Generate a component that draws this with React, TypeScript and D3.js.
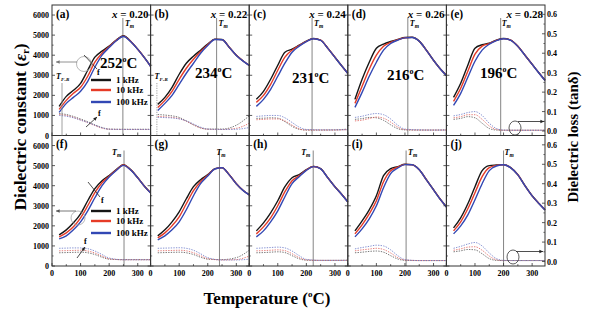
import * as d3 from 'd3';

// temperature grid (°C) for dielectric constant curves
const temps = [25, 50, 75, 100, 125, 150, 175, 200, 225, 250, 275, 300, 325, 345];
// temperature grid (°C) for loss curves
const lossTemps = [25, 50, 75, 100, 125, 150, 175, 200, 250, 300, 345];

// dielectric constant, rows = 1 kHz, 10 kHz, 100 kHz
const epsA = [
    [1450, 1950, 2250, 2600, 3250, 3900, 4200, 4450, 4750, 4970, 4700, 4300, 3850, 3450],
    [1300, 1750, 2100, 2400, 2950, 3650, 4100, 4420, 4740, 4950, 4690, 4295, 3845, 3445],
    [1150, 1600, 1900, 2200, 2700, 3400, 4000, 4380, 4720, 4930, 4680, 4290, 3840, 3440],
];
const epsB = [
    [1550, 1900, 2400, 3050, 3600, 3950, 4250, 4550, 4800, 4780, 4400, 4000, 3700, 3500],
    [1400, 1750, 2200, 2800, 3350, 3800, 4180, 4520, 4790, 4775, 4395, 3995, 3695, 3495],
    [1250, 1600, 2000, 2550, 3100, 3600, 4100, 4480, 4780, 4770, 4390, 3990, 3690, 3490],
];
const epsC = [
    [1800, 2200, 2800, 3500, 4150, 4300, 4500, 4700, 4830, 4750, 4350, 3900, 3450, 3100],
    [1650, 2000, 2550, 3250, 3900, 4250, 4480, 4690, 4825, 4745, 4345, 3895, 3445, 3095],
    [1450, 1800, 2300, 2950, 3600, 4150, 4450, 4680, 4820, 4740, 4340, 3890, 3440, 3090],
];
const epsD = [
    [1800, 2800, 3650, 4350, 4550, 4680, 4780, 4880, 4890, 4700, 4250, 3750, 3300, 3000],
    [1600, 2450, 3300, 4000, 4450, 4640, 4770, 4870, 4885, 4695, 4245, 3745, 3295, 2995],
    [1400, 2150, 2950, 3650, 4250, 4580, 4750, 4860, 4880, 4690, 4240, 3740, 3290, 2990],
];
const epsE = [
    [1900, 2600, 3500, 4350, 4520, 4600, 4750, 4830, 4750, 4450, 4000, 3550, 3100, 2750],
    [1700, 2350, 3200, 4050, 4450, 4580, 4740, 4825, 4745, 4445, 3995, 3545, 3095, 2745],
    [1500, 2100, 2900, 3700, 4250, 4550, 4730, 4820, 4740, 4440, 3990, 3540, 3090, 2740],
];
const epsF = [
    [1550, 1800, 2150, 2600, 3250, 3850, 4250, 4500, 4800, 5050, 4800, 4400, 3950, 3650],
    [1450, 1650, 1950, 2400, 3000, 3650, 4150, 4470, 4780, 5030, 4790, 4395, 3945, 3645],
    [1350, 1500, 1800, 2200, 2750, 3400, 4000, 4430, 4760, 5010, 4780, 4390, 3940, 3640],
];
const epsG = [
    [1500, 1800, 2200, 2700, 3350, 3950, 4300, 4550, 4850, 4900, 4550, 4100, 3750, 3550],
    [1400, 1650, 2000, 2450, 3100, 3750, 4200, 4520, 4840, 4895, 4545, 4095, 3745, 3545],
    [1300, 1500, 1800, 2200, 2800, 3500, 4100, 4480, 4830, 4890, 4540, 4090, 3740, 3540],
];
const epsH = [
    [1750, 2150, 2650, 3250, 3950, 4400, 4550, 4800, 4960, 4850, 4400, 3950, 3550, 3200],
    [1600, 1950, 2400, 3000, 3700, 4250, 4500, 4780, 4955, 4845, 4395, 3945, 3545, 3195],
    [1450, 1750, 2200, 2750, 3450, 4100, 4450, 4760, 4950, 4840, 4390, 3940, 3540, 3190],
];
const epsI = [
    [1750, 2250, 2800, 3500, 4500, 4850, 4950, 5070, 5050, 4800, 4300, 3800, 3300, 2950],
    [1600, 2050, 2600, 3250, 4200, 4750, 4920, 5060, 5045, 4795, 4295, 3795, 3295, 2945],
    [1450, 1850, 2350, 3000, 3900, 4600, 4880, 5050, 5040, 4790, 4290, 3790, 3290, 2940],
];
const epsJ = [
    [1900, 2400, 3100, 3950, 4750, 5000, 5030, 5050, 4900, 4550, 4000, 3500, 3100, 2800],
    [1750, 2200, 2850, 3650, 4450, 4900, 5010, 5045, 4895, 4545, 3995, 3495, 3095, 2795],
    [1600, 2000, 2550, 3300, 4100, 4750, 4980, 5040, 4890, 4540, 3990, 3490, 3090, 2790],
];

// dielectric loss (tanδ), rows = 1 kHz, 10 kHz, 100 kHz
const lossA = [
    [0.09, 0.085, 0.075, 0.062, 0.048, 0.032, 0.018, 0.01, 0.009, 0.009, 0.009],
    [0.085, 0.08, 0.07, 0.057, 0.043, 0.028, 0.015, 0.009, 0.008, 0.008, 0.008],
    [0.08, 0.076, 0.068, 0.056, 0.044, 0.03, 0.017, 0.009, 0.008, 0.008, 0.008],
];
const lossB = [
    [0.085, 0.082, 0.078, 0.07, 0.052, 0.032, 0.016, 0.01, 0.01, 0.03, 0.078],
    [0.075, 0.073, 0.07, 0.064, 0.05, 0.032, 0.016, 0.009, 0.008, 0.014, 0.04],
    [0.07, 0.069, 0.067, 0.062, 0.052, 0.036, 0.02, 0.01, 0.008, 0.009, 0.018],
];
const lossC = [
    [0.065, 0.066, 0.068, 0.066, 0.048, 0.024, 0.009, 0.005, 0.005, 0.006, 0.01],
    [0.058, 0.06, 0.062, 0.062, 0.052, 0.03, 0.011, 0.005, 0.005, 0.005, 0.007],
    [0.075, 0.078, 0.08, 0.08, 0.068, 0.044, 0.02, 0.008, 0.006, 0.006, 0.007],
];
const lossD = [
    [0.06, 0.064, 0.07, 0.068, 0.055, 0.032, 0.012, 0.006, 0.005, 0.005, 0.006],
    [0.052, 0.056, 0.064, 0.072, 0.066, 0.046, 0.02, 0.007, 0.005, 0.005, 0.005],
    [0.07, 0.076, 0.085, 0.09, 0.084, 0.062, 0.03, 0.01, 0.006, 0.005, 0.005],
];
const lossE = [
    [0.06, 0.065, 0.074, 0.068, 0.04, 0.013, 0.005, 0.004, 0.004, 0.004, 0.004],
    [0.068, 0.074, 0.084, 0.084, 0.06, 0.026, 0.008, 0.004, 0.004, 0.004, 0.004],
    [0.078, 0.085, 0.095, 0.1, 0.08, 0.04, 0.013, 0.005, 0.004, 0.004, 0.004],
];
const lossF = [
    [0.045, 0.046, 0.047, 0.048, 0.045, 0.036, 0.022, 0.012, 0.01, 0.01, 0.01],
    [0.055, 0.056, 0.057, 0.058, 0.054, 0.044, 0.028, 0.014, 0.009, 0.009, 0.009],
    [0.068, 0.069, 0.07, 0.07, 0.066, 0.054, 0.036, 0.018, 0.009, 0.009, 0.009],
];
const lossG = [
    [0.045, 0.046, 0.047, 0.048, 0.045, 0.036, 0.022, 0.012, 0.01, 0.02, 0.058],
    [0.055, 0.056, 0.057, 0.058, 0.055, 0.045, 0.03, 0.015, 0.008, 0.01, 0.028],
    [0.068, 0.069, 0.07, 0.071, 0.068, 0.058, 0.04, 0.02, 0.008, 0.008, 0.012],
];
const lossH = [
    [0.045, 0.046, 0.048, 0.05, 0.046, 0.03, 0.014, 0.007, 0.006, 0.006, 0.007],
    [0.055, 0.056, 0.058, 0.06, 0.056, 0.04, 0.02, 0.008, 0.006, 0.006, 0.006],
    [0.068, 0.07, 0.072, 0.074, 0.07, 0.054, 0.03, 0.011, 0.006, 0.006, 0.006],
];
const lossI = [
    [0.045, 0.048, 0.052, 0.054, 0.048, 0.03, 0.013, 0.006, 0.005, 0.005, 0.005],
    [0.055, 0.06, 0.064, 0.068, 0.062, 0.044, 0.02, 0.008, 0.005, 0.005, 0.005],
    [0.065, 0.072, 0.078, 0.084, 0.08, 0.06, 0.03, 0.01, 0.005, 0.005, 0.005],
];
const lossJ = [
    [0.05, 0.055, 0.062, 0.06, 0.04, 0.015, 0.006, 0.005, 0.005, 0.005, 0.005],
    [0.058, 0.065, 0.074, 0.076, 0.058, 0.028, 0.009, 0.005, 0.005, 0.005, 0.005],
    [0.068, 0.078, 0.09, 0.098, 0.08, 0.044, 0.015, 0.006, 0.005, 0.005, 0.005],
];

const epsPanels = [epsA, epsB, epsC, epsD, epsE, epsF, epsG, epsH, epsI, epsJ];
const lossPanels = [lossA, lossB, lossC, lossD, lossE, lossF, lossG, lossH, lossI, lossJ];
const panelLetters = ['a', 'b', 'c', 'd', 'e', 'f', 'g', 'h', 'i', 'j'];
const compositions = ['0.20', '0.22', '0.24', '0.26', '0.28'];
const tmLines = [248, 231, 220, 210, 190, 252, 241, 224, 204, 200];
const tmTexts = ['252', '234', '231', '216', '196'];
const tfrTemps = [35, 22];
const freqLabels = ['1 kHz', '10 kHz', '100 kHz'];
const epsTicks = [0, 1000, 2000, 3000, 4000, 5000, 6000];
const lossTicks = [0, 0.1, 0.2, 0.3, 0.4, 0.5, 0.6];
const tempTicks = [0, 100, 200, 300];

const W = 589;
const H = 309;
const left = 52;
const colW = 98.6;
const top = 5;
const rowH = 130.5;
const serif = '"Liberation Serif", "Times New Roman", serif';
const colors = ['#161616', '#e63b27', '#3248b4'];
const lossColors = ['#555555', '#e0605a', '#6a78c8'];

// per-panel offsets of the T_m label relative to its line
const tmDx = [2, 2, 2, 2, 1, -12, -3, -12, 2, 1];
// temperature annotation positions (absolute, top row)
const tmLabelPos = [
    [100, 68],
    [195, 78],
    [292, 83],
    [387, 80],
    [480, 78],
];

function Arrow({ x1, y1, x2, y2, color = '#333' }: { x1: number; y1: number; x2: number; y2: number; color?: string }) {
    const a = Math.atan2(y2 - y1, x2 - x1);
    const l = 4;
    const p1 = [x2 - l * Math.cos(a - 0.45), y2 - l * Math.sin(a - 0.45)];
    const p2 = [x2 - l * Math.cos(a + 0.45), y2 - l * Math.sin(a + 0.45)];
    return (
        <g>
            <line x1={x1} y1={y1} x2={x2} y2={y2} stroke={color} strokeWidth={0.8} />
            <path d={`M${x2},${y2}L${p1[0]},${p1[1]}L${p2[0]},${p2[1]}Z`} fill={color} />
        </g>
    );
}

export default function App() {
    const x = d3.scaleLinear().domain([0, 345]).range([0, colW]);
    const y = d3.scaleLinear().domain([0, 6500]).range([rowH, 0]);
    const yLoss = d3.scaleLinear().domain([-0.023, 0.648]).range([rowH, 0]);

    const epsLine = d3
        .line<number>()
        .x((_, i) => x(temps[i]))
        .y((d) => y(d))
        .curve(d3.curveMonotoneX);
    const lossLine = d3
        .line<number>()
        .x((_, i) => x(lossTemps[i]))
        .y((d) => yLoss(d))
        .curve(d3.curveMonotoneX);

    const minorEps = d3.range(500, 6500, 1000);
    const minorLoss = d3.range(0.05, 0.65, 0.1);
    const bottomTicks = d3.range(0, 350, 50);

    return (
        <svg
            width={W}
            height={H}
            viewBox={`0 0 ${W} ${H}`}
            style={{ position: 'absolute', left: 0, top: 0, background: '#fff' }}
            fontFamily={serif}
        >
            {epsPanels.map((series, idx) => {
                const col = idx % 5;
                const row = Math.floor(idx / 5);
                const gx = left + col * colW;
                const gy = top + row * rowH;
                const tmX = x(tmLines[idx]);
                return (
                    <g key={idx} transform={`translate(${gx},${gy})`}>
                        {/* T_m vertical line */}
                        <line x1={tmX} x2={tmX} y1={row === 0 ? 13 : 15} y2={rowH} stroke="#777" strokeWidth={0.9} />
                        <text
                            x={tmX + tmDx[idx]}
                            y={row === 0 ? 21 : 19}
                            fontSize={8}
                            fontStyle="italic"
                            fontWeight="bold"
                        >
                            T<tspan fontSize={5.5} dy={2}>m</tspan>
                        </text>

                        {/* loss curves */}
                        {lossPanels[idx].map((s, k) => (
                            <path
                                key={`l${k}`}
                                d={lossLine(s) ?? ''}
                                fill="none"
                                stroke={lossColors[k]}
                                strokeWidth={0.8}
                                strokeDasharray="1.4 1.2"
                            />
                        ))}

                        {/* dielectric constant curves */}
                        {series.map((s, k) => (
                            <path
                                key={`e${k}`}
                                d={epsLine(s) ?? ''}
                                fill="none"
                                stroke={colors[k]}
                                strokeWidth={1.4}
                            />
                        ))}

                        {/* ticks */}
                        {epsTicks.map((t) => (
                            <line key={`lt${t}`} x1={0} x2={3} y1={y(t)} y2={y(t)} stroke="#333" strokeWidth={0.8} />
                        ))}
                        {minorEps.map((t) => (
                            <line key={`lm${t}`} x1={0} x2={1.6} y1={y(t)} y2={y(t)} stroke="#333" strokeWidth={0.7} />
                        ))}
                        {col < 4
                            ? epsTicks.map((t) => (
                                  <line key={`rt${t}`} x1={colW - 3} x2={colW} y1={y(t)} y2={y(t)} stroke="#333" strokeWidth={0.8} />
                              ))
                            : lossTicks.map((t) => (
                                  <line key={`rt${t}`} x1={colW - 3} x2={colW} y1={yLoss(t)} y2={yLoss(t)} stroke="#333" strokeWidth={0.8} />
                              ))}
                        {col === 4 &&
                            minorLoss.map((t) => (
                                <line key={`rm${t}`} x1={colW - 1.6} x2={colW} y1={yLoss(t)} y2={yLoss(t)} stroke="#333" strokeWidth={0.7} />
                            ))}
                        {bottomTicks.map((t) => (
                            <line
                                key={`bt${t}`}
                                x1={x(t)}
                                x2={x(t)}
                                y1={rowH}
                                y2={rowH - (t % 100 === 0 ? 3 : 1.8)}
                                stroke="#333"
                                strokeWidth={0.8}
                            />
                        ))}

                        {/* tick labels */}
                        {col === 0 &&
                            epsTicks.map((t) => (
                                <text key={`ll${t}`} x={-3} y={y(t) + 3} fontSize={8} fontWeight="bold" textAnchor="end">
                                    {t}
                                </text>
                            ))}
                        {col === 4 &&
                            lossTicks.map((t) => (
                                <text key={`rl${t}`} x={colW + 2} y={yLoss(t) + 3} fontSize={8} fontWeight="bold">
                                    {t.toFixed(1)}
                                </text>
                            ))}
                        {row === 1 &&
                            tempTicks.map((t) => (
                                <text key={`bl${t}`} x={x(t)} y={rowH + 10} fontSize={8} fontWeight="bold" textAnchor="middle">
                                    {t}
                                </text>
                            ))}

                        {/* panel letter and composition */}
                        <text x={4} y={12.5} fontSize={11.5} fontWeight="bold">
                            ({panelLetters[idx]})
                        </text>
                        {row === 0 && (
                            <text x={colW - 2} y={12.5} fontSize={11} fontWeight="bold" textAnchor="end">
                                <tspan fontStyle="italic">x</tspan> = {compositions[col]}
                            </text>
                        )}

                        <rect x={0} y={0} width={colW} height={rowH} fill="none" stroke="#333" strokeWidth={1} />
                    </g>
                );
            })}

            {/* T_m temperatures */}
            {tmTexts.map((t, i) => (
                <text key={t} x={tmLabelPos[i][0]} y={tmLabelPos[i][1]} fontSize={15} fontWeight="bold">
                    {t}
                    <tspan fontSize={8} dy={-6}>
                        o
                    </tspan>
                    <tspan dy={6}>C</tspan>
                </text>
            ))}

            {/* legends in (a) and (f) */}
            {[0, 1].map((r) =>
                freqLabels.map((f, k) => {
                    const ly = r === 0 ? [80, 90, 102][k] : [211, 221, 233][k];
                    return (
                        <g key={`${r}${f}`}>
                            <line x1={91} x2={111} y1={ly} y2={ly} stroke={colors[k]} strokeWidth={2.4} />
                            <text x={116} y={ly + 3} fontSize={9} fontWeight="bold">
                                {f}
                            </text>
                        </g>
                    );
                })
            )}

            {/* T_F-R markers */}
            {tfrTemps.map((t, i) => {
                const tx = left + i * colW + x(t);
                return (
                    <g key={`tfr${i}`}>
                        <line
                            x1={tx}
                            x2={tx}
                            y1={83}
                            y2={top + rowH}
                            stroke="#888"
                            strokeWidth={0.8}
                            strokeDasharray={i === 1 ? '1.2 1.2' : undefined}
                        />
                        <text x={left + i * colW + 4} y={79} fontSize={8} fontStyle="italic" fontWeight="bold">
                            T<tspan fontSize={5} dy={2}>F-R</tspan>
                        </text>
                    </g>
                );
            })}

            {/* (a) annotations */}
            <circle cx={84} cy={64} r={7.5} fill="none" stroke="#999" strokeWidth={0.7} />
            <Arrow x1={77} y1={62} x2={56} y2={62} color="#777" />
            <line x1={84} y1={55} x2={97} y2={69} stroke="#222" strokeWidth={0.8} />
            <text x={97} y={75} fontSize={8} fontWeight="bold">
                f
            </text>
            <Arrow x1={86} y1={127} x2={97} y2={117} color="#222" />
            <text x={98} y={116} fontSize={8} fontWeight="bold">
                f
            </text>

            {/* (f) annotations */}
            <circle cx={78} cy={218} r={7} fill="none" stroke="#999" strokeWidth={0.7} />
            <Arrow x1={76} y1={211} x2={56} y2={211} color="#555" />
            <line x1={88} y1={182} x2={100} y2={197} stroke="#222" strokeWidth={0.8} />
            <text x={101} y={203} fontSize={8} fontWeight="bold">
                f
            </text>
            <Arrow x1={77} y1={258} x2={85} y2={247} color="#222" />
            <text x={84} y={244} fontSize={8} fontWeight="bold">
                f
            </text>

            {/* (e) and (j) loss markers */}
            <ellipse cx={515} cy={128} rx={6} ry={7} fill="none" stroke="#333" strokeWidth={0.8} />
            <Arrow x1={518} y1={121.5} x2={544} y2={121.5} color="#222" />
            <ellipse cx={513} cy={257} rx={6} ry={7} fill="none" stroke="#333" strokeWidth={0.8} />
            <Arrow x1={516} y1={251.5} x2={543} y2={251.5} color="#222" />

            {/* axis titles */}
            <text
                transform={`translate(26,127) rotate(-90)`}
                textAnchor="middle"
                fontSize={17.5}
                fontWeight="bold"
            >
                Dielectric constant (<tspan fontStyle="italic">ε</tspan>
                <tspan fontSize={10} dy={3}>r</tspan>
                <tspan dy={-3}>)</tspan>
            </text>
            <text
                transform={`translate(578,137) rotate(-90)`}
                textAnchor="middle"
                fontSize={15}
                fontWeight="bold"
            >
                Dielectric loss (tanδ)
            </text>
            <text x={267} y={304} textAnchor="middle" fontSize={17} fontWeight="bold">
                Temperature (<tspan fontSize={9} dy={-7}>o</tspan>
                <tspan dy={7}>C)</tspan>
            </text>
        </svg>
    );
}
